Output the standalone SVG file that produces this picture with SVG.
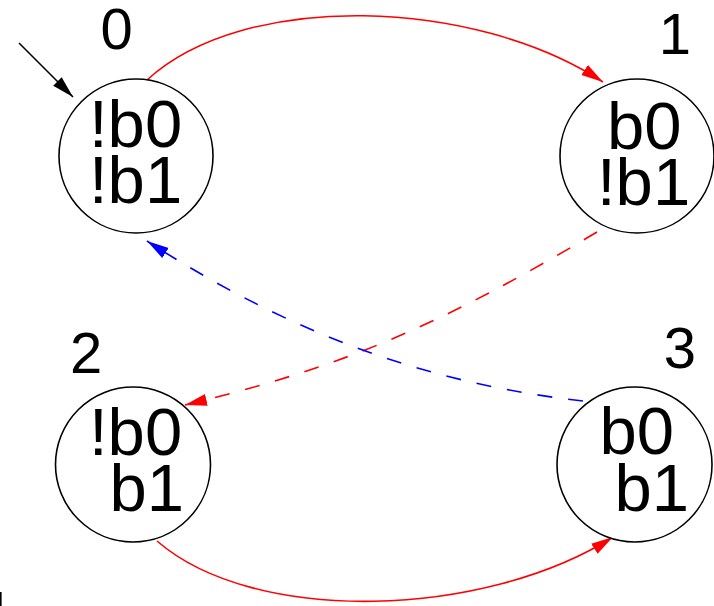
<svg xmlns="http://www.w3.org/2000/svg" width="714" height="606" viewBox="0 0 714 606">
  <style>
    .state { fill: #ffffff; stroke: #000000; stroke-width: 1.6; }
    .name { font-family: "Liberation Sans", Arial, sans-serif; font-size: 58px; fill: #000000; }
    .prop { font-family: "Liberation Sans", Arial, sans-serif; font-size: 67px; fill: #000000; }
    .edge { fill: none; stroke-width: 1.6; }
    .red { stroke: #ff0000; marker-end: url(#arrow-red); }
    .blue { stroke: #0000ff; marker-end: url(#arrow-blue); }
    .dashed { stroke-dasharray: 15 16; }
    .init { stroke: #000000; marker-end: url(#arrow-black); }
  </style>
  <defs>
    <marker id="arrow-red" markerUnits="userSpaceOnUse" markerWidth="24" markerHeight="14" refX="22" refY="6" orient="auto">
      <path d="M0,0 L22,6 L0,12 Z" fill="#ff0000"/>
    </marker>
    <marker id="arrow-blue" markerUnits="userSpaceOnUse" markerWidth="24" markerHeight="14" refX="22" refY="6" orient="auto">
      <path d="M0,0 L22,6 L0,12 Z" fill="#0000ff"/>
    </marker>
    <marker id="arrow-black" markerUnits="userSpaceOnUse" markerWidth="24" markerHeight="14" refX="22" refY="6" orient="auto">
      <path d="M0,0 L22,6 L0,12 Z" fill="#000000"/>
    </marker>
  </defs>

  <!-- transitions -->
  <g id="connectors">
    <path class="edge init" d="M19,43 L73,97"/>
    <path class="edge red" d="M147,80 C245,-10 475,-2 603,82"/>
    <path class="edge red dashed" d="M597,232 C430,332 330,370 185,405"/>
    <path class="edge blue dashed" d="M583,401 C440,385 300,340 147,241"/>
    <path class="edge red" d="M157,541 C255,626 485,618 613,537"/>
  </g>

  <g id="state0">
    <circle class="state" cx="136" cy="156" r="77"/>
    <text class="name" x="100.5" y="49">0</text>
    <text class="prop" x="89" y="147">!b0</text>
    <text class="prop" x="89" y="203">!b1</text>
  </g>

  <g id="state1">
    <circle class="state" cx="637" cy="156" r="77"/>
    <text class="name" x="658.7" y="54">1</text>
    <text class="prop" x="607" y="149">b0</text>
    <text class="prop" x="597" y="205">!b1</text>
  </g>

  <g id="state2">
    <circle class="state" cx="133" cy="464.5" r="77.5"/>
    <text class="name" x="70" y="373">2</text>
    <text class="prop" x="89" y="455">!b0</text>
    <text class="prop" x="109.5" y="510.5">b1</text>
  </g>

  <g id="state3">
    <circle class="state" cx="634.5" cy="464.5" r="77.5"/>
    <text class="name" x="663.7" y="368">3</text>
    <text class="prop" x="599.5" y="454">b0</text>
    <text class="prop" x="614.5" y="511">b1</text>
  </g>

  <!-- clipped stroke at the lower-left edge -->
  <path d="M0.8,592 L0.8,606" stroke="#000000" stroke-width="1.6" fill="none"/>
</svg>
